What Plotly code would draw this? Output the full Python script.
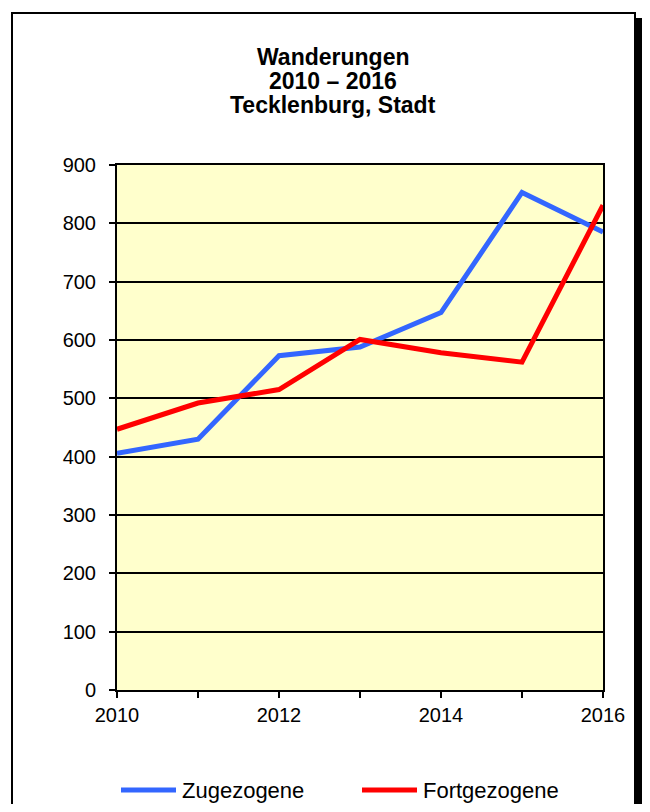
import plotly.graph_objects as go

years = [2010, 2011, 2012, 2013, 2014, 2015, 2016]
zugezogene = [406, 430, 573, 588, 647, 853, 785]
fortgezogene = [447, 492, 515, 601, 578, 562, 831]
x_tick_vals = [2010, 2011, 2012, 2013, 2014, 2015, 2016]
x_tick_text = ["2010", "", "2012", "", "2014", "", "2016"]
y_tick_vals = [0, 100, 200, 300, 400, 500, 600, 700, 800, 900]
series_names = ["Zugezogene", "Fortgezogene"]
series_colors = ["#3366FF", "#FF0000"]
title_lines = ["Wanderungen", "2010 – 2016", "Tecklenburg, Stadt"]

# page has an 8px body margin; work in figure coordinates
OFF = 8
W, H = 650 - 2 * OFF, 812 - 2 * OFF
L, R, T, B = 117 - OFF, 603 - OFF, 165 - OFF, 690 - OFF

def px(x):
    return (x - OFF - L) / (R - L)

def py(y):
    return (B - (y - OFF)) / (B - T)

fig = go.Figure()
for name, vals, col in zip(series_names, [zugezogene, fortgezogene], series_colors):
    fig.add_trace(go.Scatter(x=years, y=vals, mode="lines", name=name,
                             line=dict(color=col, width=5), showlegend=False))

FONT = "Liberation Sans, Arial"
fig.update_layout(
    width=W, height=H,
    margin=dict(l=L, r=W - R, t=T, b=H - B, pad=0),
    paper_bgcolor="white",
    plot_bgcolor="#FFFFCC",
    font=dict(family=FONT, size=20, color="black"),
    showlegend=False,
    xaxis=dict(range=[2010, 2016], tickmode="array", tickvals=x_tick_vals,
               ticktext=x_tick_text, ticks="outside", ticklen=6, tickwidth=2,
               tickcolor="black", showline=True, linecolor="black", linewidth=2,
               mirror=True, showgrid=False, zeroline=False, fixedrange=True,
               tickfont=dict(size=20)),
    yaxis=dict(range=[0, 900], tickmode="array", tickvals=y_tick_vals,
               ticks="outside", ticklen=6, tickwidth=2, tickcolor="black",
               showline=True, linecolor="black", linewidth=2, mirror=True,
               showgrid=True, gridcolor="black", gridwidth=2, zeroline=False,
               fixedrange=True, tickfont=dict(size=20), ticklabelstandoff=9),
)

# title (three lines, tight spacing)
for i, line in enumerate(title_lines):
    fig.add_annotation(text=f"<b>{line}</b>", xref="paper", yref="paper",
                       x=px(333), y=py(57 + 24 * i), xanchor="center", yanchor="middle",
                       showarrow=False, font=dict(size=23, family=FONT, color="black"))

# legend
leg_line_x = [(121, 176), (362, 417)]
leg_text_x = [180, 421]
for (x0, x1), tx, name, col in zip(leg_line_x, leg_text_x, series_names, series_colors):
    fig.add_shape(type="line", xref="paper", yref="paper",
                  x0=px(x0), x1=px(x1), y0=py(790), y1=py(790),
                  line=dict(color=col, width=5))
    fig.add_annotation(text=name, xref="paper", yref="paper", x=px(tx), y=py(790),
                       xanchor="left", yanchor="middle", showarrow=False,
                       font=dict(size=22, family=FONT, color="black"))

# outer frame and drop shadow (page is clipped at ~642px)
fig.add_shape(type="rect", xref="paper", yref="paper",
              x0=px(12), x1=px(635), y0=py(840), y1=py(13),
              line=dict(color="black", width=2), fillcolor="rgba(0,0,0,0)", layer="below")
fig.add_shape(type="rect", xref="paper", yref="paper",
              x0=px(636), x1=px(650), y0=py(840), y1=py(18),
              line=dict(width=0), fillcolor="black", layer="above")

fig.write_html("out.html")
